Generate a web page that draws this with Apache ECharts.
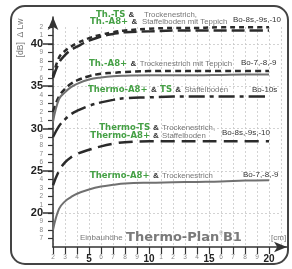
<!DOCTYPE html>
<html>
<head>
<meta charset="utf-8">
<script src="https://cdn.jsdelivr.net/npm/echarts@6/dist/echarts.min.js"></script>
<style>
html,body{margin:0;padding:0;background:#fff;}
#chart{width:292px;height:269px;}
</style>
</head>
<body>
<div id="chart"></div>
<script>
// Einbauhoehe in cm
const heights=[2,2.5,3,3.5,4,5,6,7,8,10,12,14,16,18,20];

// delta Lw in dB
const thTsTeppich=[36.2,38.4,39.2,39.7,40.1,40.7,41.1,41.4,41.6,41.8,41.9,41.9,42.0,42.0,42.0];
const thA8Teppich=[36.0,37.8,38.7,39.3,39.7,40.4,40.9,41.2,41.4,41.5,41.6,41.6,41.6,41.6,41.6];
const thA8TrockTeppich=[32.0,33.8,34.7,35.3,35.7,36.2,36.5,36.6,36.7,36.8,36.8,36.8,36.8,36.8,36.8];
const thA8TrockGrey=[30.8,33.5,34.3,34.9,35.3,35.8,36.05,36.2,36.25,36.3,36.3,36.3,36.35,36.4,36.4];
const thermoA8TsStaffel=[29.0,30.3,31.1,31.7,32.1,32.7,33.1,33.4,33.6,33.7,33.8,33.8,33.8,33.8,33.8];
const thermoTsStaffel=[23.3,25.0,26.0,26.6,27.0,27.5,27.9,28.2,28.4,28.5,28.5,28.5,28.5,28.5,28.5];
const thermoA8Trock=[18.0,20.5,21.4,21.9,22.3,22.8,23.15,23.35,23.5,23.6,23.65,23.7,23.75,23.85,23.9];

const xTicks=[2,3,4,5,6,7,8,9,10,11,12,13,14,15,16,17,18,19,20];
const yTicks=[17,18,19,20,21,22,23,24,25,26,27,28,29,30,31,32,33,34,35,36,37,38,39,40,41,42];
const yMajor=[20,25,30,35,40];

const boLabels=["Bo-8s,-9s,-10","Bo-7,-8,-9","Bo-10s","Bo-8s,-9s,-10","Bo-7,-8,-9"];

const chart=echarts.init(document.getElementById("chart"));

const green="#45a045";
const rich={
    g:{fill:green,fontFamily:"DejaVu Sans",fontWeight:"bold",fontSize:8.5},
    a:{fill:"#333",fontFamily:"Liberation Sans",fontWeight:"bold",fontSize:8},
    t:{fill:"#777",fontFamily:"Liberation Sans",fontSize:7.8},
    p:{fill:"#7a7a7a",fontFamily:"DejaVu Sans",fontWeight:"bold",fontSize:13},
    s:{fill:"#888",fontFamily:"Liberation Sans",fontSize:5,verticalAlign:"top"},
    e:{fill:"#777",fontFamily:"Liberation Sans",fontSize:8}
};

function txt(x,y,text,align){
    return {
        type:"text",x:x,y:y,z:10,
        style:{text:text,rich:rich,align:align||"left",verticalAlign:"middle"}
    };
}
function bo(x,y,text){
    return {
        type:"text",x:x,y:y,z:10,
        style:{text:text,fill:"#333",font:"8px Liberation Sans",align:"left",verticalAlign:"middle"}
    };
}

function line(data,color,width,dash){
    return {
        type:"line",
        xAxisIndex:0,yAxisIndex:0,
        data:heights.map((h,i)=>[h,data[i]]),
        smooth:0.4,
        symbol:"none",
        lineStyle:{color:color,width:width,type:dash}
    };
}

chart.setOption({
    backgroundColor:"#fff",
    animation:false,
    grid:[
        {left:53,right:5,top:17,bottom:22},
        {left:53,right:11,top:27,bottom:22}
    ],
    xAxis:[
        {
            gridIndex:0,type:"value",min:2,max:21.5,
            axisLine:{lineStyle:{color:"#333",width:1.5},symbol:["none","arrow"],symbolSize:[8,13]},
            axisTick:{customValues:xTicks,length:7,lineStyle:{color:"#333",width:1.2}},
            axisLabel:{
                customValues:xTicks,margin:7,
                formatter:v=>v%5===0?"{b|"+v+"}":"{s|"+(v%10)+"}",
                rich:{
                    b:{color:"#222",fontWeight:"bold",fontSize:10,fontFamily:"Liberation Sans"},
                    s:{color:"#888",fontSize:6.5,fontFamily:"Liberation Sans"}
                }
            },
            splitLine:{show:false}
        },
        {
            gridIndex:1,type:"value",min:2,max:21,interval:1,
            axisLine:{show:false},axisTick:{show:false},axisLabel:{show:false},
            splitLine:{lineStyle:{color:"#c8c8c8",width:0.8,type:[2,2]}}
        }
    ],
    yAxis:[
        {
            gridIndex:0,type:"value",min:16,max:43.2,
            axisLine:{show:true,lineStyle:{color:"#333",width:1.5},symbol:["none","arrow"],symbolSize:[8,13]},
            axisTick:{show:true,customValues:yTicks,length:5,lineStyle:{color:"#333",width:1.2}},
            axisLabel:{
                customValues:yTicks,margin:10,
                formatter:v=>v%5===0?"{b|"+v+"}":"{s|"+(v%10)+"}",
                rich:{
                    b:{color:"#222",fontWeight:"bold",fontSize:11,fontFamily:"Liberation Sans"},
                    s:{color:"#888",fontSize:6.5,fontFamily:"Liberation Sans"}
                }
            },
            splitLine:{show:false}
        },
        {
            gridIndex:1,type:"value",min:16,max:42,interval:1,
            axisLine:{show:false},
            axisTick:{show:true,customValues:yMajor,length:10,lineStyle:{color:"#333",width:1.5}},
            axisLabel:{show:false},
            splitLine:{lineStyle:{color:"#c8c8c8",width:0.8,type:[2,2]}}
        }
    ],
    series:[
        line(thTsTeppich,"#2b2b2b",2.5,[5,4]),
        line(thA8Teppich,"#2b2b2b",2.5,[13,5]),
        line(thA8TrockTeppich,"#2b2b2b",2.5,[6,4]),
        line(thA8TrockGrey,"#707070",2,"solid"),
        line(thermoA8TsStaffel,"#2b2b2b",2.5,[16,5,4,5]),
        line(thermoTsStaffel,"#2b2b2b",2.5,[14,7]),
        line(thermoA8Trock,"#707070",2,"solid")
    ],
    graphic:[
        {
            type:"rect",z:0,
            shape:{x:11,y:6,width:277,height:258,r:14},
            style:{fill:"none",stroke:"#444",lineWidth:2}
        },
        {
            type:"text",x:21,y:38,rotation:Math.PI/2,z:10,
            style:{text:"[dB]  Δ Lw",fill:"#777",font:"8.5px Liberation Sans",align:"center",verticalAlign:"middle"}
        },
        txt(96,15,"{g|Th.-TS} {a|&}"),
        txt(144,15,"{t|Trockenestrich,}"),
        txt(90,22,"{g|Th.-A8+} {a|&}"),
        txt(142,22,"{t|Staffelboden mit Teppich}"),
        bo(233,20,boLabels[0]),
        txt(89,64,"{g|Th.-A8+} {a|&} {t|Trockenestrich mit Teppich}"),
        bo(241,63,boLabels[1]),
        txt(88,90,"{g|Thermo-A8+} {a|&} {g|TS} {a|&} {t|Staffelboden}"),
        bo(252,90,boLabels[2]),
        txt(150,128,"{g|Thermo-TS}","right"),
        txt(153,128,"{a|&} {t|Trockenestrich,}"),
        txt(150,136,"{g|Thermo-A8+}","right"),
        txt(153,136,"{a|&} {t|Staffelboden}"),
        bo(222,133,boLabels[3]),
        txt(90,176,"{g|Thermo-A8+} {a|&} {t|Trockenestrich}"),
        bo(243,175,boLabels[4]),
        txt(80,238,"{e|Einbauhöhe} {p|Thermo-Plan}{s|®}{p|B1}"),
        txt(271,238,"{e|[cm]}")
    ]
});

window.addEventListener("resize",()=>chart.resize());
</script>
</body>
</html>
